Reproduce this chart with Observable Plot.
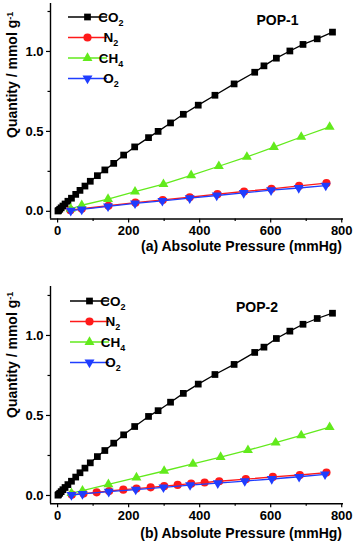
<!DOCTYPE html>
<html>
<head>
<meta charset="utf-8">
<script src="https://cdn.jsdelivr.net/npm/d3@7"></script>
<script src="https://cdn.jsdelivr.net/npm/@observablehq/plot@0.6"></script>
<style>
  body { margin: 0; background: #fff; }
  #root { width: 354px; }
  #root svg { display: block; }
</style>
</head>
<body>
<div id="root"></div>
<script>
// ---------- data ----------
const gases = ["CO2", "N2", "CH4", "O2"];
const gasColors = ["#000000", "#ff1a1a", "#62ea1c", "#1f3dff"];
const xTicks = [0, 200, 400, 600, 800];
const xMinorTicks = [100, 300, 500, 700];
const yTicks = [0, 0.5, 1.0];
const yMinorTicks = [0.25, 0.75, 1.25];

// Panel (a) POP-1
const a_CO2_p = [1, 3, 6, 10, 15, 21, 29, 39, 51, 63, 77, 92, 112, 133, 158, 186, 217, 256, 283, 318, 354, 396, 443, 497, 555, 581, 616, 654, 691, 731, 774];
const a_CO2_q = [0.002, 0.006, 0.013, 0.022, 0.033, 0.046, 0.063, 0.082, 0.106, 0.131, 0.158, 0.188, 0.223, 0.259, 0.300, 0.352, 0.403, 0.461, 0.500, 0.553, 0.607, 0.664, 0.726, 0.797, 0.870, 0.910, 0.958, 1.003, 1.044, 1.079, 1.121];
const a_N2_p  = [36, 68, 143, 219, 296, 372, 450, 525, 602, 680, 757];
const a_N2_q  = [0.007, 0.016, 0.035, 0.054, 0.071, 0.088, 0.107, 0.124, 0.141, 0.159, 0.176];
const a_CH4_p = [37, 68, 142, 218, 298, 376, 454, 533, 609, 686, 766];
const a_CH4_q = [0.016, 0.038, 0.077, 0.123, 0.170, 0.225, 0.282, 0.340, 0.402, 0.465, 0.528];
const a_O2_p  = [37, 68, 142, 218, 295, 372, 448, 524, 601, 679, 755];
const a_O2_q  = [0.004, 0.012, 0.031, 0.050, 0.066, 0.082, 0.099, 0.115, 0.132, 0.146, 0.161];

// Panel (b) POP-2
const b_CO2_p = [1, 3, 6, 10, 15, 21, 29, 39, 51, 63, 77, 92, 112, 133, 158, 186, 217, 256, 283, 318, 354, 396, 443, 497, 555, 581, 616, 654, 691, 731, 774];
const b_CO2_q = [0.002, 0.007, 0.014, 0.024, 0.036, 0.050, 0.068, 0.089, 0.115, 0.142, 0.171, 0.204, 0.243, 0.281, 0.327, 0.379, 0.431, 0.494, 0.530, 0.583, 0.638, 0.696, 0.756, 0.819, 0.894, 0.927, 0.981, 1.027, 1.070, 1.106, 1.139];
const b_N2_p  = [40, 73, 110, 145, 185, 222, 262, 300, 338, 376, 414, 455, 530, 606, 682, 757];
const b_N2_q  = [0.005, 0.012, 0.020, 0.028, 0.036, 0.043, 0.051, 0.058, 0.066, 0.074, 0.081, 0.089, 0.102, 0.116, 0.128, 0.143];
const b_CH4_p = [39, 70, 143, 222, 300, 381, 459, 536, 614, 686, 766];
const b_CH4_q = [0.014, 0.030, 0.070, 0.112, 0.153, 0.197, 0.240, 0.283, 0.330, 0.375, 0.427];
const b_O2_p  = [39, 70, 144, 220, 298, 373, 451, 527, 603, 680, 753];
const b_O2_q  = [0.003, 0.010, 0.024, 0.037, 0.051, 0.065, 0.077, 0.090, 0.103, 0.117, 0.132];

// ---------- helpers ----------
const triangleDown = {
  draw(context, size) {
    const y = -Math.sqrt(size / (Math.sqrt(3) * 3));
    context.moveTo(0, -y * 2);
    context.lineTo(-Math.sqrt(3) * y, y);
    context.lineTo(Math.sqrt(3) * y, y);
    context.closePath();
  }
};
const symbols = ["square", "circle", "triangle", triangleDown];
const symbolR = [3.8, 4.1, 3.7, 3.7];
const d3Symbols = [d3.symbolSquare, d3.symbolCircle, d3.symbolTriangle, triangleDown];

function rows(p, q, gas) { return p.map((v, i) => ({p: v, q: q[i], gas})); }

const FONT = "'Liberation Sans', Arial, sans-serif";

function panel(cfg) {
  const series = [
    rows(cfg.co2p, cfg.co2q, "CO2"),
    rows(cfg.n2p, cfg.n2q, "N2"),
    rows(cfg.ch4p, cfg.ch4q, "CH4"),
    rows(cfg.o2p, cfg.o2q, "O2")
  ];
  const xDomain = [-20, 805];
  const marks = [];
  series.forEach((s, i) => {
    marks.push(Plot.line(s, {x: "p", y: "q", stroke: gasColors[i], strokeWidth: 1.3}));
    marks.push(Plot.dot(s, {x: "p", y: "q", symbol: () => symbols[i], r: symbolR[i], fill: gasColors[i], stroke: "none"}));
  });
  const svg = Plot.plot({
    width: 354,
    height: 271,
    marginLeft: 50,
    marginRight: 11,
    marginTop: cfg.marginTop,
    marginBottom: cfg.marginBottom,
    style: {fontFamily: FONT, fontSize: "13px", fontWeight: "bold", color: "#000", background: "#fff", overflow: "visible"},
    x: {domain: xDomain},
    y: {domain: cfg.yDomain},
    symbol: {type: "identity"},
    marks: [
      Plot.axisX(xTicks, {tickSize: 4, tickPadding: 3, label: null, fontSize: 13, fontWeight: "bold", strokeWidth: 1.2}),
      Plot.axisX(xMinorTicks, {tickSize: 2.5, tickFormat: () => "", label: null, strokeWidth: 1.2}),
      Plot.axisY(yTicks, {tickSize: 4, tickPadding: 3, tickFormat: d3.format(".1f"), label: null, fontSize: 13, fontWeight: "bold", strokeWidth: 1.2}),
      Plot.axisY(yMinorTicks.filter(t => t <= cfg.yDomain[1]), {tickSize: 2.5, tickFormat: () => "", label: null, strokeWidth: 1.2}),
      Plot.ruleX([xDomain[0]], {strokeWidth: 1.4}),
      Plot.ruleY([cfg.yDomain[0]], {strokeWidth: 1.4}),
      ...marks
    ]
  });

  const g = d3.select(svg).append("g").attr("font-family", FONT).attr("font-weight", "bold").attr("fill", "#000");
  // y label
  const yl = g.append("text")
    .attr("transform", `translate(${cfg.yLabelX},${cfg.yLabelY}) rotate(-90)`)
    .attr("text-anchor", "start")
    .attr("font-size", 14);
  yl.append("tspan").text("Quantity / mmol g");
  yl.append("tspan").attr("dy", "-0.45em").attr("font-size", 9).text("-1");
  // x label
  g.append("text").attr("x", 342).attr("y", cfg.xLabelY).attr("text-anchor", "end").attr("font-size", 14).text(cfg.xLabel);
  // panel title
  g.append("text").attr("x", cfg.titleX).attr("y", cfg.titleY).attr("text-anchor", "middle").attr("font-size", 14).text(cfg.title);
  // legend
  const labels = [["CO", "2"], ["N", "2"], ["CH", "4"], ["O", "2"]];
  labels.forEach((lab, i) => {
    const y = cfg.legY + i * 20.5;
    g.append("line").attr("x1", cfg.legX).attr("x2", cfg.legX + 39).attr("y1", y).attr("y2", y)
      .attr("stroke", gasColors[i]).attr("stroke-width", 1.3);
    g.append("path").attr("transform", `translate(${cfg.legX + 19.5},${y})`)
      .attr("d", d3.symbol(d3Symbols[i], Math.PI * symbolR[i] * symbolR[i])())
      .attr("fill", gasColors[i]);
    const t = g.append("text").attr("x", cfg.legX + 43).attr("y", y + 4.7).attr("font-size", 13.5);
    t.append("tspan").text(lab[0]);
    t.append("tspan").attr("dy", 4).attr("font-size", 9).text(lab[1]);
  });
  return svg;
}

const root = document.getElementById("root");
root.appendChild(panel({
  co2p: a_CO2_p, co2q: a_CO2_q, n2p: a_N2_p, n2q: a_N2_q, ch4p: a_CH4_p, ch4q: a_CH4_q, o2p: a_O2_p, o2q: a_O2_q,
  yDomain: [-0.048, 1.30], marginTop: 3, marginBottom: 52.5,
  xLabel: "(a) Absolute Pressure (mmHg)", xLabelY: 251,
  title: "POP-1", titleX: 277.5, titleY: 24.5,
  yLabelX: 17, yLabelY: 138,
  legX: 68, legY: 17
}));
root.appendChild(panel({
  co2p: b_CO2_p, co2q: b_CO2_q, n2p: b_N2_p, n2q: b_N2_q, ch4p: b_CH4_p, ch4q: b_CH4_q, o2p: b_O2_p, o2q: b_O2_q,
  yDomain: [-0.052, 1.306], marginTop: 15, marginBottom: 38.7,
  xLabel: "(b) Absolute Pressure (mmHg)", xLabelY: 267,
  title: "POP-2", titleX: 257, titleY: 41,
  yLabelX: 17, yLabelY: 147,
  legX: 70, legY: 30
}));
</script>
</body>
</html>
